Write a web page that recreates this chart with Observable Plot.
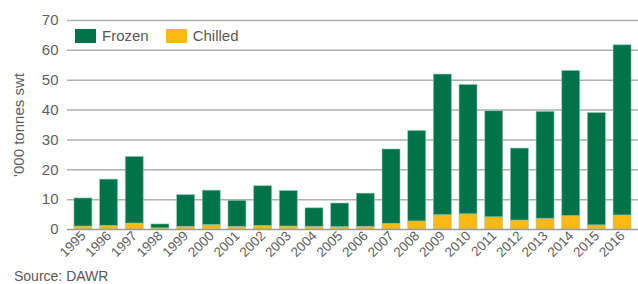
<!DOCTYPE html>
<html>
<head>
<meta charset="utf-8">
<script src="https://cdn.jsdelivr.net/npm/d3@7"></script>
<script src="https://cdn.jsdelivr.net/npm/@observablehq/plot@0.6"></script>
<style>
  body { margin: 0; background: #fff; font-family: "Liberation Sans", Arial, sans-serif; }
  #wrap { position: relative; width: 638px; height: 284px; overflow: hidden; }
  #legend { position: absolute; left: 75px; top: 27px; display: flex; align-items: center; font-size: 15px; color: #595959; }
  .sw { display: inline-block; width: 21px; height: 14px; margin-right: 6px; }
  .item { display: flex; align-items: center; margin-right: 17px; }
  #caption { position: absolute; left: 14px; top: 268px; font-size: 14px; color: #595959; }
</style>
</head>
<body>
<div id="wrap">
  <div id="chart"></div>
  <div id="legend"></div>
  <div id="caption">Source: DAWR</div>
</div>
<script>
const years = ["1995","1996","1997","1998","1999","2000","2001","2002","2003","2004","2005","2006","2007","2008","2009","2010","2011","2012","2013","2014","2015","2016"];
const frozen = [9.4,15.5,22.3,1.3,10.6,11.5,8.7,13.3,11.9,6.2,7.9,11.1,24.9,30.3,47.1,43.3,35.5,24.1,35.8,48.6,37.6,57.0];
const chilled = [1.0,1.2,2.0,0.4,0.9,1.5,0.9,1.2,1.0,0.9,0.8,0.9,1.9,2.7,4.8,5.1,4.1,3.0,3.6,4.5,1.4,4.7];
const series = ["Frozen", "Chilled"];
const colors = ["#00734a", "#fdb813"];
const yTicks = [0,10,20,30,40,50,60,70];

const rows = [];
years.forEach((y, i) => {
  rows.push({year: y, type: "Chilled", value: chilled[i]});
  rows.push({year: y, type: "Frozen", value: frozen[i]});
});

const chart = Plot.plot({
  width: 638,
  height: 266,
  marginLeft: 67,
  marginRight: 0,
  marginTop: 20,
  marginBottom: 37,
  style: {fontFamily: "Liberation Sans, Arial, sans-serif", fontSize: "13px", color: "#5f5f5f", background: "#fff"},
  x: {domain: years, paddingInner: 0.3, paddingOuter: 0.27, round: false, label: null},
  y: {domain: [0, 70], label: null},
  color: {domain: series, range: colors},
  marks: [
    Plot.ruleY(yTicks.filter(d => d > 0), {stroke: "#b0b0b0", strokeWidth: 1.5}),
    Plot.barY(rows, Plot.stackY({order: ["Chilled", "Frozen"]}, {x: "year", y: "value", fill: "type", stroke: "#8ccbb0", strokeWidth: 0.8, strokeOpacity: 0.7})),
    Plot.ruleY([0], {stroke: "#9a9a9a", strokeWidth: 1.5}),
    Plot.axisY({ticks: yTicks, tickSize: 0, tickPadding: 9, fontSize: 15, label: "'000 tonnes swt", labelAnchor: "center", labelArrow: "none", labelOffset: 54}),
    Plot.axisX({tickSize: 0, tickPadding: 4, tickRotate: -45, fontSize: 13.5, label: null})
  ]
});
document.getElementById("chart").appendChild(chart);

const leg = document.getElementById("legend");
series.forEach((s, i) => {
  const it = document.createElement("span");
  it.className = "item";
  it.innerHTML = `<span class="sw" style="background:${colors[i]}"></span>${s}`;
  leg.appendChild(it);
});
</script>
</body>
</html>
